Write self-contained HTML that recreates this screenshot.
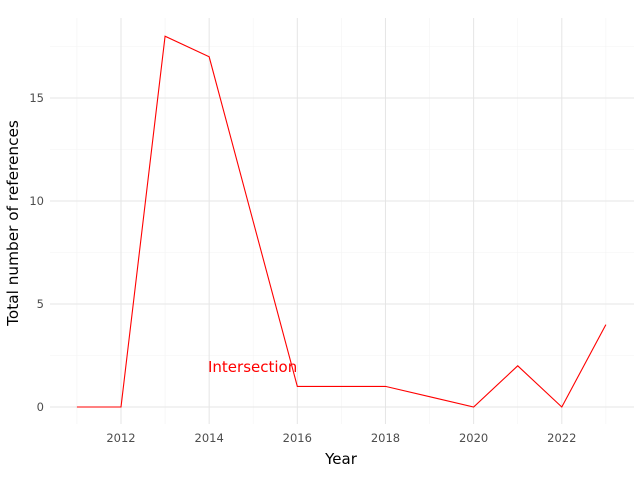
<!DOCTYPE html>
<html><head><meta charset="utf-8"><style>
body{margin:0;background:#fff;font-family:"DejaVu Sans","Liberation Sans",sans-serif}
</style></head><body>
<svg width="640" height="480" xmlns="http://www.w3.org/2000/svg" font-family="DejaVu Sans, Liberation Sans, sans-serif">
<g id="grid"></g><g id="series"></g><g id="ticks"></g>
<text x="208" y="372" fill="#ff0000" font-size="15">Intersection</text>
<text x="341" y="464" text-anchor="middle" font-size="15" fill="#000">Year</text>
<text transform="translate(18,223) rotate(-90)" text-anchor="middle" font-size="15.3" fill="#000">Total number of references</text>
</svg>
<script>
const years=[2011,2012,2013,2014,2015,2016,2017,2018,2019,2020,2021,2022,2023];
const refs=[0,0,18,17,9,1,1,1,0.5,0,2,0,4];
const xTicks=[2012,2014,2016,2018,2020,2022];
const yTicks=[0,5,10,15];
const NS="http://www.w3.org/2000/svg";
const x=v=>121+(v-2012)*44.08;
const y=v=>407-v*20.6;
const L=50,R=634,T=18,B=424;
function mk(t,a,p){const e=document.createElementNS(NS,t);for(const k in a)e.setAttribute(k,a[k]);p.appendChild(e);return e;}
const g=document.getElementById('grid'),tk=document.getElementById('ticks'),s=document.getElementById('series');
for(let v=2011;v<=2023;v+=2){const l=mk('line',{x1:x(v),x2:x(v),y1:T,y2:B,stroke:'#f4f4f4','stroke-width':0.6},g);

}
for(const v of [2.5,7.5,12.5,17.5]){const l=mk('line',{x1:L,x2:R,y1:y(v),y2:y(v),stroke:'#f4f4f4','stroke-width':0.6},g);

}
xTicks.forEach(v=>{const l=mk('line',{x1:x(v),x2:x(v),y1:T,y2:B,stroke:'#e5e5e5','stroke-width':1},g);


const t=mk('text',{x:x(v),y:442,'text-anchor':'middle','font-size':11.5,fill:'#4d4d4d'},tk);t.textContent=v;

});
yTicks.forEach(v=>{const l=mk('line',{x1:L,x2:R,y1:y(v),y2:y(v),stroke:'#e5e5e5','stroke-width':1},g);


const t=mk('text',{x:44,y:y(v)+4,'text-anchor':'end','font-size':11.5,fill:'#4d4d4d'},tk);t.textContent=v;

});
const p=mk('polyline',{points:years.map((yr,i)=>x(yr)+','+y(refs[i])).join(' '),fill:'none',stroke:'#ff0000','stroke-width':1.1},s);


</script>
</body></html>
